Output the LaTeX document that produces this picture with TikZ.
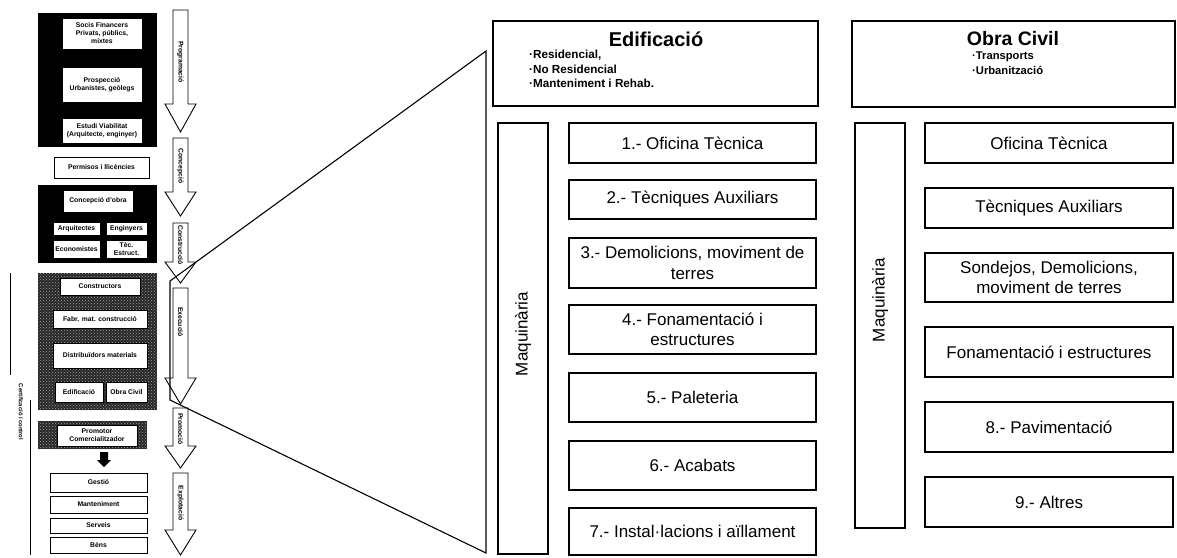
\documentclass[tikz,border=0pt]{standalone}
\usepackage{fontspec}
\setmainfont{Liberation Sans}
\usetikzlibrary{patterns}
\newcommand\bx[7]{\node[#6, minimum width={(#4)-(#2)}, minimum height={(#5)-(#3)}] (#1) at ({((#2)+(#4))/2},{((#3)+(#5))/2}) {#7};}
\newcommand\harr[6]{%
  \draw[harrow] (173,#2) -- (188,#2) -- (188,#3) -- (196,#3) -- (180.5,#4) -- (165,#3) -- (173,#3) -- cycle;
  \node[arrowlbl] (#1) at (180.5,#6) {#5};}
\tikzset{
  lbl/.style={font=\fontsize{6.8}{8}\selectfont\bfseries, align=center, inner sep=0pt},
  wbox/.style={draw=black, fill=white, line width=0.5pt, lbl},
  stepbox/.style={draw, line width=1.1pt, fill=white, align=center, font=\fontsize{17}{20.5}\selectfont, inner sep=0pt},
  hdr/.style={draw, line width=1.4pt, fill=white},
  maq/.style={draw, line width=1.1pt, fill=white},
  arrowlbl/.style={rotate=-90, font=\fontsize{6.8}{7}\selectfont\bfseries, inner sep=0pt},
  harrow/.style={draw, line width=0.9pt, fill=white, line join=miter},
}
\begin{document}
\begin{tikzpicture}[x=1pt,y=-1pt]
\useasboundingbox (0,0) rectangle (1177,557);
\fill[white] (0,0) rectangle (1177,557);

% ---------- left column: black blocks ----------
\fill[black] (38,13) rectangle (157,147);
\bx{socis}{62}{18}{142}{49}{wbox}{Socis Financers\\ Privats, públics,\\ mixtes}
\bx{prosp}{62}{67}{142}{102}{wbox}{Prospecció\\ Urbanistes, geòlegs}
\bx{estudi}{62}{118}{142}{143}{wbox}{Estudi Viabilitat\\ (Arquitecte, enginyer)}
\bx{perm}{54}{157}{149}{178}{wbox}{Permisos i llicències}

\fill[black] (38,185) rectangle (157,263);
\bx{conc}{63}{190}{133}{212}{wbox}{Concepció d'obra}
\bx{arq}{53}{222}{100}{235}{wbox}{Arquitectes}
\bx{eng}{106}{222}{147}{235}{wbox}{Enginyers}
\bx{eco}{53}{240}{100}{258}{wbox}{Economistes}
\bx{tec}{106}{240}{147}{258}{wbox}{Tèc.\\ Estruct.}

\fill[black!85] (38,273) rectangle (157,410);
\fill[pattern=crosshatch dots, pattern color=black!35] (38,273) rectangle (157,410);
\bx{constr}{60}{278}{140}{295}{wbox}{Constructors}
\bx{fabr}{53}{310}{147}{328}{wbox}{Fabr. mat. construcció}
\bx{distr}{53}{343}{147}{368}{wbox}{Distribuïdors materials}
\bx{edifs}{55}{382}{103}{402}{wbox}{Edificació}
\bx{obras}{106}{382}{147}{402}{wbox}{Obra Civil}

\fill[black!85] (38,421) rectangle (147,449);
\fill[pattern=crosshatch dots, pattern color=black!35] (38,421) rectangle (147,449);
\bx{prom}{57}{425}{137}{446}{wbox}{Promotor\\ Comercialitzador}
\fill[black] (100,452) -- (108,452) -- (108,460) -- (111,460) -- (104,467) -- (97,460) -- (100,460) -- cycle;

\bx{gest}{50}{473}{147}{492}{wbox}{Gestió}
\bx{mant}{50}{496}{147}{513}{wbox}{Manteniment}
\bx{serv}{50}{518}{147}{533}{wbox}{Serveis}
\bx{bens}{50}{537}{147}{553}{wbox}{Béns}

\draw[line width=0.8pt] (10,273) -- (10,375);
\draw[line width=0.8pt] (30,400) -- (30,555);
\node[rotate=-90, font=\fontsize{5.8}{6}\selectfont\bfseries, inner sep=0pt] (cert) at (21,412) {Certificació i control};

% ---------- phase arrows ----------
\harr{a1}{10}{104}{132}{Programació}{62}
\harr{a2}{138}{192}{216}{Concepció}{166}
\harr{a3}{223}{262}{283}{Construcció}{245}
\harr{a4}{288}{378}{404}{Execució}{322}
\harr{a5}{408}{446}{468}{Promoció}{429}
\harr{a6}{473}{530}{555}{Explotació}{503}

% ---------- zoom trapezoid ----------
\draw[line width=1.1pt, line join=miter] (486,51) -- (170,281) -- (170,400) -- (486,553) -- cycle;

% ---------- Edificació ----------
\bx{edh}{493}{21}{818}{106}{hdr}{}
\node[font=\fontsize{20}{22}\selectfont\bfseries, inner sep=0pt] (edt) at (656,39) {Edificació};
\node[font=\fontsize{11.7}{14.5}\selectfont\bfseries, align=left, anchor=north west, inner sep=0pt] (edl) at (529,50) {·Residencial,\\ ·No Residencial\\ ·Manteniment i Rehab.};

\bx{maq1}{498}{123}{548}{554}{maq}{}
\node[rotate=90, font=\fontsize{17}{20}\selectfont, inner sep=0pt] (maq1t) at (523,334) {Maquinària};

\bx{e1}{569}{123}{816}{163}{stepbox}{1.- Oficina Tècnica}
\bx{e2}{569}{180}{816}{219}{stepbox}{2.- Tècniques Auxiliars}
\bx{e3}{569}{238}{816}{288}{stepbox}{3.- Demolicions, moviment de\\ terres}
\bx{e4}{569}{305}{816}{354}{stepbox}{4.- Fonamentació i\\ estructures}
\bx{e5}{569}{373}{816}{422}{stepbox}{5.- Paleteria}
\bx{e6}{569}{441}{816}{490}{stepbox}{6.- Acabats}
\bx{e7}{569}{508}{816}{555}{stepbox}{7.- Instal·lacions i aïllament}

% ---------- Obra Civil ----------
\bx{och}{852}{21}{1175}{107}{hdr}{}
\node[font=\fontsize{19.5}{22}\selectfont\bfseries, inner sep=0pt] (oct) at (1013,39) {Obra Civil};
\node[font=\fontsize{11.2}{15}\selectfont\bfseries, align=left, anchor=north west, inner sep=0pt] (ocl) at (972,52) {·Transports\\ ·Urbanització};

\bx{maq2}{855}{123}{905}{528}{maq}{}
\node[rotate=90, font=\fontsize{17}{20}\selectfont, inner sep=0pt] (maq2t) at (880,300) {Maquinària};

\bx{o1}{925}{123}{1173}{163}{stepbox}{Oficina Tècnica}
\bx{o2}{925}{188}{1173}{228}{stepbox}{Tècniques Auxiliars}
\bx{o3}{925}{253}{1173}{302}{stepbox}{Sondejos, Demolicions,\\ moviment de terres}
\bx{o4}{925}{327}{1173}{377}{stepbox}{Fonamentació i estructures}
\bx{o5}{925}{402}{1173}{452}{stepbox}{8.- Pavimentació}
\bx{o6}{925}{477}{1173}{527}{stepbox}{9.- Altres}
\end{tikzpicture}
\end{document}
